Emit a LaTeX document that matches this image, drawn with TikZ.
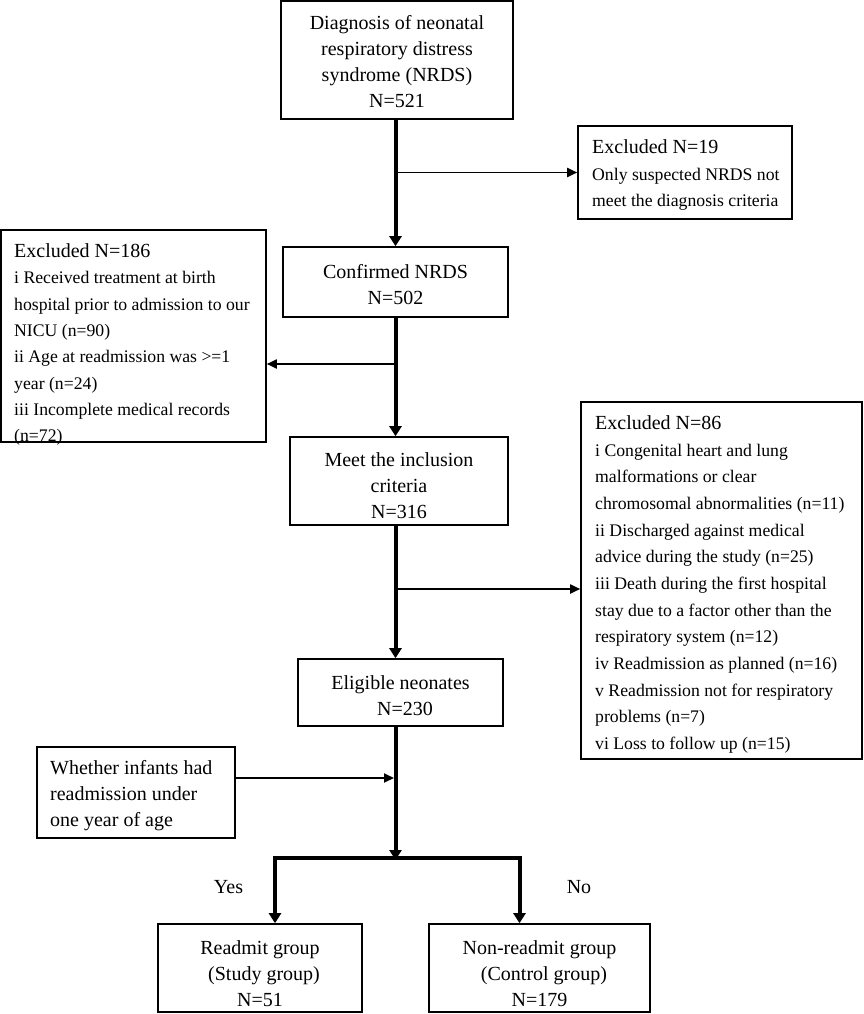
\documentclass[tikz,border=0pt]{standalone}
\usepackage{fontspec}
\setmainfont{Liberation Serif}
\usetikzlibrary{arrows.meta}
\tikzset{
  box/.style={draw, line width=1.6pt, inner sep=0pt},
  ctext/.style={inner sep=0pt, align=center, font=\fontsize{20}{26}\selectfont},
  ltext/.style={inner sep=0pt, align=left, anchor=west, font=\fontsize{17.7}{26.3}\selectfont},
  bigarrow/.style={line width=4pt, -{Triangle[length=10pt,width=12pt]}},
  smallarrow/.style={line width=1.8pt, -{Triangle[length=10pt,width=9pt]}},
  lab/.style={inner sep=0pt, font=\fontsize{20}{24}\selectfont},
}
\newcommand{\ttl}[1]{{\fontsize{20}{26}\selectfont #1}}
\begin{document}
\begin{tikzpicture}[x=1pt,y=-1pt]
\useasboundingbox (0,0) rectangle (864,1014);
% boxes
\node[box, minimum width=232pt, minimum height=118pt] (top) at (397,60) {};
\node[ctext] (topT) at (397,62) {Diagnosis of neonatal\\respiratory distress\\syndrome (NRDS)\\N=521};

\node[box, minimum width=214pt, minimum height=93pt] (ex19) at (685,172.5) {};
\node[ltext] (ex19T) at (592,175) {\ttl{Excluded N=19}\\Only suspected NRDS not\\meet the diagnosis criteria};

\node[box, minimum width=225pt, minimum height=70pt] (conf) at (395.5,282) {};
\node[ctext] (confT) at (395.5,284.5) {Confirmed NRDS\\N=502};

\node[box, minimum width=265pt, minimum height=212pt] (exL) at (133.5,336) {};
\node[ltext] (exLT) at (14,344.5) {\ttl{Excluded N=186}\\i Received treatment at birth\\hospital prior to admission to our\\NICU (n=90)\\ii Age at readmission was >=1\\year (n=24)\\iii Incomplete medical records\\(n=72)};

\node[box, minimum width=218pt, minimum height=88pt] (meet) at (399,481) {};
\node[ctext] (meetT) at (399,485.5) {Meet the inclusion\\criteria\\N=316};

\node[box, minimum width=281pt, minimum height=357pt] (ex86) at (721.5,580.5) {};
\node[ltext, font=\fontsize{17.7}{26.67}\selectfont] (ex86T) at (595,584.5) {\ttl{Excluded N=86}\\i Congenital heart and lung\\malformations or clear\\chromosomal abnormalities (n=11)\\ii Discharged against medical\\advice during the study (n=25)\\iii Death during the first hospital\\stay due to a factor other than the\\respiratory system (n=12)\\iv Readmission as planned (n=16)\\v Readmission not for respiratory\\problems (n=7)\\vi Loss to follow up (n=15)};

\node[box, minimum width=205pt, minimum height=67pt] (elig) at (400.5,692.5) {};
\node[ctext] (eligT) at (400.5,696) {Eligible neonates\\\hspace*{9pt}N=230};

\node[box, minimum width=198pt, minimum height=91pt] (wh) at (136,792.5) {};
\node[ltext, font=\fontsize{20}{26}\selectfont] (whT) at (50,795.5) {Whether infants had\\readmission under\\one year of age};

\node[box, minimum width=204pt, minimum height=88pt] (ra) at (260,968) {};
\node[ctext] (raT) at (260,974) {Readmit group\\\hspace*{8pt}(Study group)\\N=51};

\node[box, minimum width=221pt, minimum height=88pt] (nra) at (539.5,968) {};
\node[ctext] (nraT) at (539.5,974) {Non-readmit group\\\hspace*{9pt}(Control group)\\N=179};

\node[lab] (yes) at (228.5,887) {Yes};
\node[lab] (no) at (579,887) {No};

% coordinates
\coordinate (b1) at (395.5,364);
\coordinate (b2) at (395.5,589);
\coordinate (b3) at (395.5,778);
\coordinate (split) at (395.5,858);
\coordinate (yesx) at (275,858);
\coordinate (nox) at (519.5,858);

% connectors
\draw[bigarrow] (conf.north |- top.south) -- (conf.north);
\draw[smallarrow] (conf.north |- ex19.west) -- (ex19.west);
\draw[bigarrow] (conf.south) -- (conf.south |- meet.north);
\draw[smallarrow] (b1) -- (b1 -| exL.east);
\draw[bigarrow] (conf.south |- meet.south) -- (conf.south |- elig.north);
\draw[smallarrow] (b2) -- (b2 -| ex86.west);
\draw[bigarrow] (conf.south |- elig.south) -- ([yshift=-2pt]split);
\draw[smallarrow] (b3 -| wh.east) -- ([xshift=-1.5pt]b3);
\draw[line width=4pt, {Triangle[length=10pt,width=12pt]}-{Triangle[length=10pt,width=12pt]}]
  (yesx |- ra.north) -- (yesx) -- (nox) -- (nox |- nra.north);
\end{tikzpicture}
\end{document}
